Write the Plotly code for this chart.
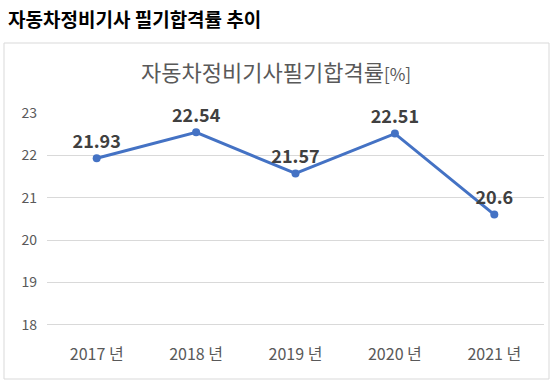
import plotly.graph_objects as go

years = ["2017 년", "2018 년", "2019 년", "2020 년", "2021 년"]
rates = [21.93, 22.54, 21.57, 22.51, 20.6]
rate_labels = ["21.93", "22.54", "21.57", "22.51", "20.6"]
y_ticks = [18, 19, 20, 21, 22, 23]

FONT = "Noto Sans CJK KR"

fig = go.Figure()
fig.add_trace(go.Scatter(
    x=years, y=rates, mode="lines+markers+text",
    line=dict(color="#4472C4", width=3),
    marker=dict(color="#4472C4", size=8),
    text=rate_labels, textposition="top center",
    textfont=dict(family=FONT, size=18, color="#404040", weight="bold"),
    cliponaxis=False, hoverinfo="skip",
))

W, H = 557, 386
L, R, T, B = 47, 13, 112, 57
pw, ph = W - L - R, H - T - B

def px_x(x):
    return (x - L) / pw

def px_y(y):
    return (H - B - y) / ph

fig.update_layout(
    width=W, height=H,
    margin=dict(l=L, r=R, t=T, b=B),
    paper_bgcolor="white", plot_bgcolor="white",
    showlegend=False,
    font=dict(family=FONT, color="#595959"),
    xaxis=dict(type="category", range=[-0.5, 4.5], showgrid=False, showline=False,
               ticks="", tickfont=dict(size=16, color="#595959"), ticklabelstandoff=14,
               fixedrange=True),
    yaxis=dict(range=[17.9, 23.02], tickvals=y_ticks, showgrid=True, gridcolor="#d9d9d9",
               gridwidth=1, zeroline=False, showline=False, ticks="",
               tickfont=dict(size=14, color="#595959"), ticklabelstandoff=9, fixedrange=True),
    shapes=[dict(type="rect", xref="paper", yref="paper",
                 x0=px_x(4), x1=px_x(549), y0=px_y(379), y1=px_y(43),
                 line=dict(color="#d9d9d9", width=1), fillcolor="rgba(0,0,0,0)", layer="below")],
    annotations=[
        dict(text="자동차정비기사 필기합격률 추이", xref="paper", yref="paper",
             x=px_x(6), y=px_y(18), xanchor="left", yanchor="middle", showarrow=False,
             font=dict(family=FONT, size=19, color="#000000", weight="bold")),
        dict(text="자동차정비기사필기합격률<span style='font-size:17px'>[%]</span>",
             xref="paper", yref="paper",
             x=px_x(276), y=px_y(71), xanchor="center", yanchor="middle", showarrow=False,
             font=dict(family=FONT, size=22, color="#595959")),
    ],
)

fig.write_html("out.html", config={"displayModeBar": False},
               post_script="document.body.style.margin='0';document.body.style.overflow='hidden';")
